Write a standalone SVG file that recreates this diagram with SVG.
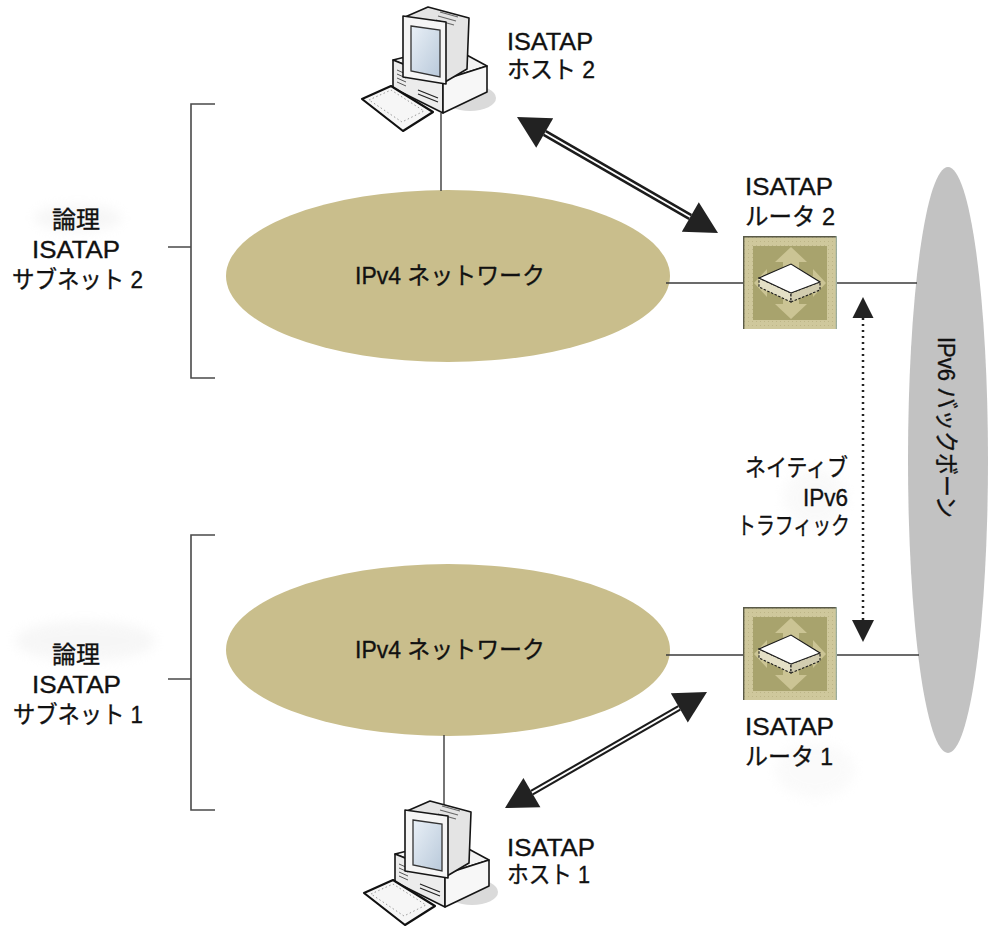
<svg xmlns="http://www.w3.org/2000/svg" xmlns:xlink="http://www.w3.org/1999/xlink" width="994" height="932" viewBox="0 0 994 932">
  <style>
    .lbl { font-family: "Liberation Sans", "Noto Sans CJK JP", sans-serif; font-size: 24px; fill: #111; stroke: #111; stroke-width: 0.35; }
    .wire { fill: none; stroke: #3a3a3a; stroke-width: 1.4; }
    .bracket { fill: none; stroke: #4a4a4a; stroke-width: 1.6; }
    .ipv4 { fill: #c9be8c; }
    .backbone { fill: #c2c2c2; }
    .head { fill: #222; }
    .shaft { stroke: #1c1c1c; stroke-linecap: butt; }
    .shaft-core { stroke: #ffffff; stroke-linecap: butt; }
    .pc-line { stroke: #151515; stroke-width: 1.6; stroke-linejoin: round; }
  </style>
  <defs>
    <filter id="soft" x="-50%" y="-50%" width="200%" height="200%">
      <feGaussianBlur stdDeviation="6"/>
    </filter>
    <linearGradient id="screen" x1="0" y1="0" x2="1" y2="1">
      <stop offset="0" stop-color="#e9f0f7"/>
      <stop offset="1" stop-color="#b9c9da"/>
    </linearGradient>
    <pattern id="stipple" width="4" height="4" patternUnits="userSpaceOnUse">
      <rect width="4" height="4" fill="#cfc89c"/>
      <rect x="1" y="1" width="1" height="1" fill="#bdb587"/>
    </pattern>

    <!-- desktop computer: CRT monitor on a base unit, keyboard in front -->
    <g id="pc-icon">
      <ellipse cx="470" cy="98" rx="26" ry="13" fill="#dadada"/>
      <!-- base unit -->
      <polygon class="pc-line" points="393,60 450,46 487,66 443,80" fill="#f3f3f3"/>
      <polygon class="pc-line" points="393,60 443,80 443,113 393,88" fill="#ececec"/>
      <polygon class="pc-line" points="443,80 487,66 487,92 443,113" fill="#f7f7f7"/>
      <!-- vents and drive slots -->
      <path d="M397,70 l9,4 M397,74 l9,4 M397,78 l9,4 M397,82 l9,4" stroke="#555" stroke-width="1"/>
      <path d="M418,90 l20,8 M418,94 l20,8" stroke="#222" stroke-width="1.3"/>
      <!-- monitor body -->
      <polygon class="pc-line" points="405,17 428,7 469,18 467,69 445,82" fill="#e4e4e4"/>
      <path d="M440,12 l18,5 M438,16 l18,5 M436,20 l18,5" stroke="#666" stroke-width="1.2"/>
      <!-- monitor bezel and screen -->
      <polygon class="pc-line" points="403,16 446,22 446,84 403,77" fill="#f5f5f5"/>
      <polygon points="411,26 440,30 440,77 411,71" fill="url(#screen)" stroke="#333" stroke-width="1.3"/>
      <!-- keyboard -->
      <polygon points="362,99 391,86 433,112 403,131" fill="#f6f6f6" stroke="#111" stroke-width="2.2" stroke-linejoin="round"/>
      <polygon points="369,100 391,90 424,111 402,122" fill="none" stroke="#9a9a9a" stroke-width="1" stroke-dasharray="1.5 2.5"/>
    </g>

    <!-- router: switch-style square with outward arrows and a flat box -->
    <g id="router-icon">
      <rect x="0" y="0" width="94" height="93" fill="url(#stipple)"/>
      <rect x="10" y="10" width="74" height="74" fill="#a8a36d"/>
      <g fill="#cbc494">
        <polygon points="48,11 64,26 56,26 56,32 40,32 40,26 32,26"/>
        <polygon points="48,83 64,68 56,68 56,62 40,62 40,68 32,68"/>
        <polygon points="11,47 24,33 24,40 30,40 30,54 24,54 24,61"/>
        <polygon points="83,47 70,33 70,40 64,40 64,54 70,54 70,61"/>
      </g>
      <polygon points="16,42 48,57 48,66 16,51" fill="#e4e0c6" stroke="#1a1a1a" stroke-width="1.1" stroke-dasharray="2.5 1.5"/>
      <polygon points="48,57 77,46 77,54 48,66" fill="#d2cdb0" stroke="#1a1a1a" stroke-width="1.1" stroke-dasharray="2.5 1.5"/>
      <polygon points="16,42 48,28 77,46 48,57" fill="#ffffff" stroke="#1a1a1a" stroke-width="1.1"/>
      <path d="M0.7,93 V0.7 H93" fill="none" stroke="#5a5a48" stroke-width="1.4"/>
      <path d="M93.3,0 V93" fill="none" stroke="#8ea7a0" stroke-width="1"/>
    </g>
  </defs>

  <rect width="994" height="932" fill="#ffffff"/>

  <!-- faint halos behind some labels -->
  <g opacity="0.3" filter="url(#soft)">
    <ellipse cx="78" cy="218" rx="44" ry="13" fill="#e2e2e2"/>
    <ellipse cx="85" cy="641" rx="70" ry="20" fill="#e4e4e4"/>
    <ellipse cx="815" cy="498" rx="32" ry="30" fill="#eeeeee"/>
    <ellipse cx="815" cy="770" rx="40" ry="28" fill="#f0f0f0"/>
  </g>

  <!-- networks -->
  <g id="ipv6-backbone">
    <ellipse class="backbone" cx="948" cy="460" rx="40" ry="293"/>
    <text class="lbl" transform="translate(938,337) rotate(90)" x="0" y="0" textLength="181" lengthAdjust="spacingAndGlyphs">IPv6 バックボーン</text>
  </g>

  <g id="ipv4-net-2">
    <ellipse class="ipv4" cx="448" cy="276" rx="222" ry="86"/>
    <text class="lbl" x="355" y="284" textLength="190" lengthAdjust="spacingAndGlyphs">IPv4 ネットワーク</text>
  </g>

  <g id="ipv4-net-1">
    <ellipse class="ipv4" cx="448" cy="650" rx="222" ry="86"/>
    <text class="lbl" x="355" y="658" textLength="190" lengthAdjust="spacingAndGlyphs">IPv4 ネットワーク</text>
  </g>

  <!-- connectors -->
  <g id="connectors">
    <path class="wire" d="M441,113 V191"/>
    <path class="wire" d="M666,283 H743"/>
    <path class="wire" d="M837,283 H917"/>
    <path class="wire" d="M666,655 H743"/>
    <path class="wire" d="M837,655 H919"/>
    <path class="wire" d="M444,735 V808"/>

    <!-- host 2 <-> router 2 -->
    <line class="shaft" x1="544.7" y1="133" x2="690.3" y2="217" stroke-width="7"/>
    <line class="shaft-core" x1="544.7" y1="133" x2="690.3" y2="217" stroke-width="2"/>
    <polygon class="head" points="517,117 553.2,118.3 536.2,147.7"/>
    <polygon class="head" points="718,233 698.8,202.3 681.8,231.7"/>

    <!-- host 1 <-> router 1 -->
    <line class="shaft" x1="531.9" y1="792.6" x2="679.3" y2="707.9" stroke-width="6"/>
    <line class="shaft-core" x1="531.9" y1="792.6" x2="679.3" y2="707.9" stroke-width="1.8"/>
    <polygon class="head" points="505,808 540.4,807.3 523.4,777.9"/>
    <polygon class="head" points="707,692 687.8,722.6 670.8,693.2"/>

    <!-- native IPv6 traffic between the routers -->
    <line x1="863" y1="318" x2="863" y2="620" stroke="#222" stroke-width="2.5" stroke-dasharray="2 4"/>
    <polygon class="head" points="863,297 852.5,318 873.5,318"/>
    <polygon class="head" points="863,642 852,620 874,620"/>
    <text class="lbl" x="745" y="476" textLength="103" lengthAdjust="spacingAndGlyphs">ネイティブ</text>
    <text class="lbl" x="803" y="506" textLength="45" lengthAdjust="spacingAndGlyphs">IPv6</text>
    <text class="lbl" x="737" y="534" textLength="113" lengthAdjust="spacingAndGlyphs">トラフィック</text>
  </g>

  <!-- logical subnet brackets -->
  <g id="subnet-2">
    <path class="bracket" d="M215,104 H191 V378 H215 M168,247 H191"/>
    <text class="lbl" x="52" y="228" textLength="48" lengthAdjust="spacingAndGlyphs">論理</text>
    <text class="lbl" x="32" y="258" textLength="88" lengthAdjust="spacingAndGlyphs">ISATAP</text>
    <text class="lbl" x="12" y="288" textLength="131" lengthAdjust="spacingAndGlyphs">サブネット 2</text>
  </g>

  <g id="subnet-1">
    <path class="bracket" d="M215,535 H191 V810 H215 M168,679 H191"/>
    <text class="lbl" x="52" y="663" textLength="48" lengthAdjust="spacingAndGlyphs">論理</text>
    <text class="lbl" x="32" y="693" textLength="89" lengthAdjust="spacingAndGlyphs">ISATAP</text>
    <text class="lbl" x="13" y="723" textLength="130" lengthAdjust="spacingAndGlyphs">サブネット 1</text>
  </g>

  <!-- hosts -->
  <g id="host-2">
    <use xlink:href="#pc-icon"/>
    <text class="lbl" x="507" y="50" textLength="86" lengthAdjust="spacingAndGlyphs">ISATAP</text>
    <text class="lbl" x="507" y="78" textLength="88" lengthAdjust="spacingAndGlyphs">ホスト 2</text>
  </g>

  <g id="host-1">
    <use xlink:href="#pc-icon" transform="translate(2,794)"/>
    <text class="lbl" x="507" y="856" textLength="88" lengthAdjust="spacingAndGlyphs">ISATAP</text>
    <text class="lbl" x="507" y="883" textLength="83" lengthAdjust="spacingAndGlyphs">ホスト 1</text>
  </g>

  <!-- routers -->
  <g id="router-2">
    <use xlink:href="#router-icon" transform="translate(743,236)"/>
    <text class="lbl" x="745" y="195" textLength="88" lengthAdjust="spacingAndGlyphs">ISATAP</text>
    <text class="lbl" x="745" y="225" textLength="90" lengthAdjust="spacingAndGlyphs">ルータ 2</text>
  </g>

  <g id="router-1">
    <use xlink:href="#router-icon" transform="translate(743,607)"/>
    <text class="lbl" x="745" y="735" textLength="89" lengthAdjust="spacingAndGlyphs">ISATAP</text>
    <text class="lbl" x="745" y="765" textLength="88" lengthAdjust="spacingAndGlyphs">ルータ 1</text>
  </g>
</svg>
